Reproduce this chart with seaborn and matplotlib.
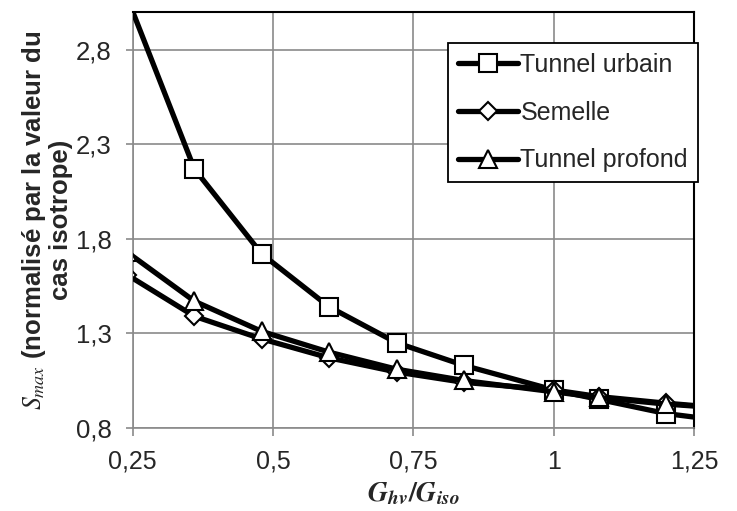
import numpy as np
import pandas as pd
import matplotlib
matplotlib.use("Agg")
import matplotlib.pyplot as plt
import seaborn as sns

# --- Données ---
g_ratio = [0.24, 0.36, 0.48, 0.60, 0.72, 0.84, 1.00, 1.08, 1.20, 1.32]
tunnel_urbain = [3.08, 2.17, 1.72, 1.44, 1.25, 1.13, 1.00, 0.95, 0.875, 0.83]
semelle = [1.61, 1.39, 1.27, 1.17, 1.095, 1.04, 1.00, 0.965, 0.93, 0.90]
tunnel_profond = [1.73, 1.47, 1.31, 1.20, 1.11, 1.05, 0.99, 0.96, 0.925, 0.90]

series_names = ["Tunnel urbain", "Semelle", "Tunnel profond"]
series_markers = ["s", "D", "^"]
series_sizes = [12.5, 9, 13.5]

x_ticks = [0.25, 0.5, 0.75, 1.0, 1.25]
x_ticklabels = ["0,25", "0,5", "0,75", "1", "1,25"]
y_ticks = [0.8, 1.3, 1.8, 2.3, 2.8]
y_ticklabels = ["0,8", "1,3", "1,8", "2,3", "2,8"]

df = pd.DataFrame({
    "ratio": g_ratio * 3,
    "smax": tunnel_urbain + semelle + tunnel_profond,
    "cas": np.repeat(series_names, len(g_ratio)),
})

# --- Style ---
sns.set_style("white")
plt.rcParams["font.family"] = ["Liberation Sans", "DejaVu Sans"]
plt.rcParams["mathtext.fontset"] = "stix"

fig = plt.figure(figsize=(7.37, 5.11), dpi=100)
ax = fig.add_axes([0.18, 0.163, 0.7617, 0.813])

for name, mk, ms in zip(series_names, series_markers, series_sizes):
    sub = df[df["cas"] == name]
    sns.lineplot(data=sub, x="ratio", y="smax", ax=ax, color="black",
                 linewidth=3.8, marker=mk, markersize=ms,
                 markerfacecolor="white", markeredgecolor="black",
                 markeredgewidth=1.5, label=name, zorder=3)

ax.set_xlim(0.25, 1.25)
ax.set_ylim(0.8, 3.0)
ax.set_xticks(x_ticks)
ax.set_xticklabels(x_ticklabels, fontsize=18)
ax.set_yticks(y_ticks)
ax.set_yticklabels(y_ticklabels, fontsize=18.5)
ax.grid(True, color="#8a8a8a", linewidth=1.2)
ax.set_axisbelow(True)
ax.tick_params(axis="x", length=6, color="#8a8a8a", width=1.2,
               direction="out", bottom=True, pad=10)
ax.tick_params(axis="y", length=5, color="#8a8a8a", width=1.2,
               direction="out", left=True, pad=10)

for side in ["left", "bottom"]:
    ax.spines[side].set_color("#8a8a8a")
    ax.spines[side].set_linewidth(1.2)
for side in ["top", "right"]:
    ax.spines[side].set_color("black")
    ax.spines[side].set_linewidth(1.5)

ax.set_xlabel(r"$\mathbfit{G}_{\mathbfit{hv}}\mathbf{/}\mathbfit{G}_{\mathbfit{iso}}$",
              fontsize=20, labelpad=5)
ax.set_ylabel("$S_{max}$ (normalisé par la valeur du\ncas isotrope)",
              fontsize=18.5, fontweight="bold", labelpad=2, linespacing=1.05)

leg = ax.legend(loc="upper right", bbox_to_anchor=(0.947, 0.916),
                bbox_transform=fig.transFigure,
                fontsize=18, frameon=True, fancybox=False, framealpha=1,
                edgecolor="black", handlelength=2.4, handletextpad=0.1,
                borderpad=0.4, labelspacing=0.95, borderaxespad=0)
leg.get_frame().set_linewidth(1.3)

plt.savefig("out.png", dpi=100)
